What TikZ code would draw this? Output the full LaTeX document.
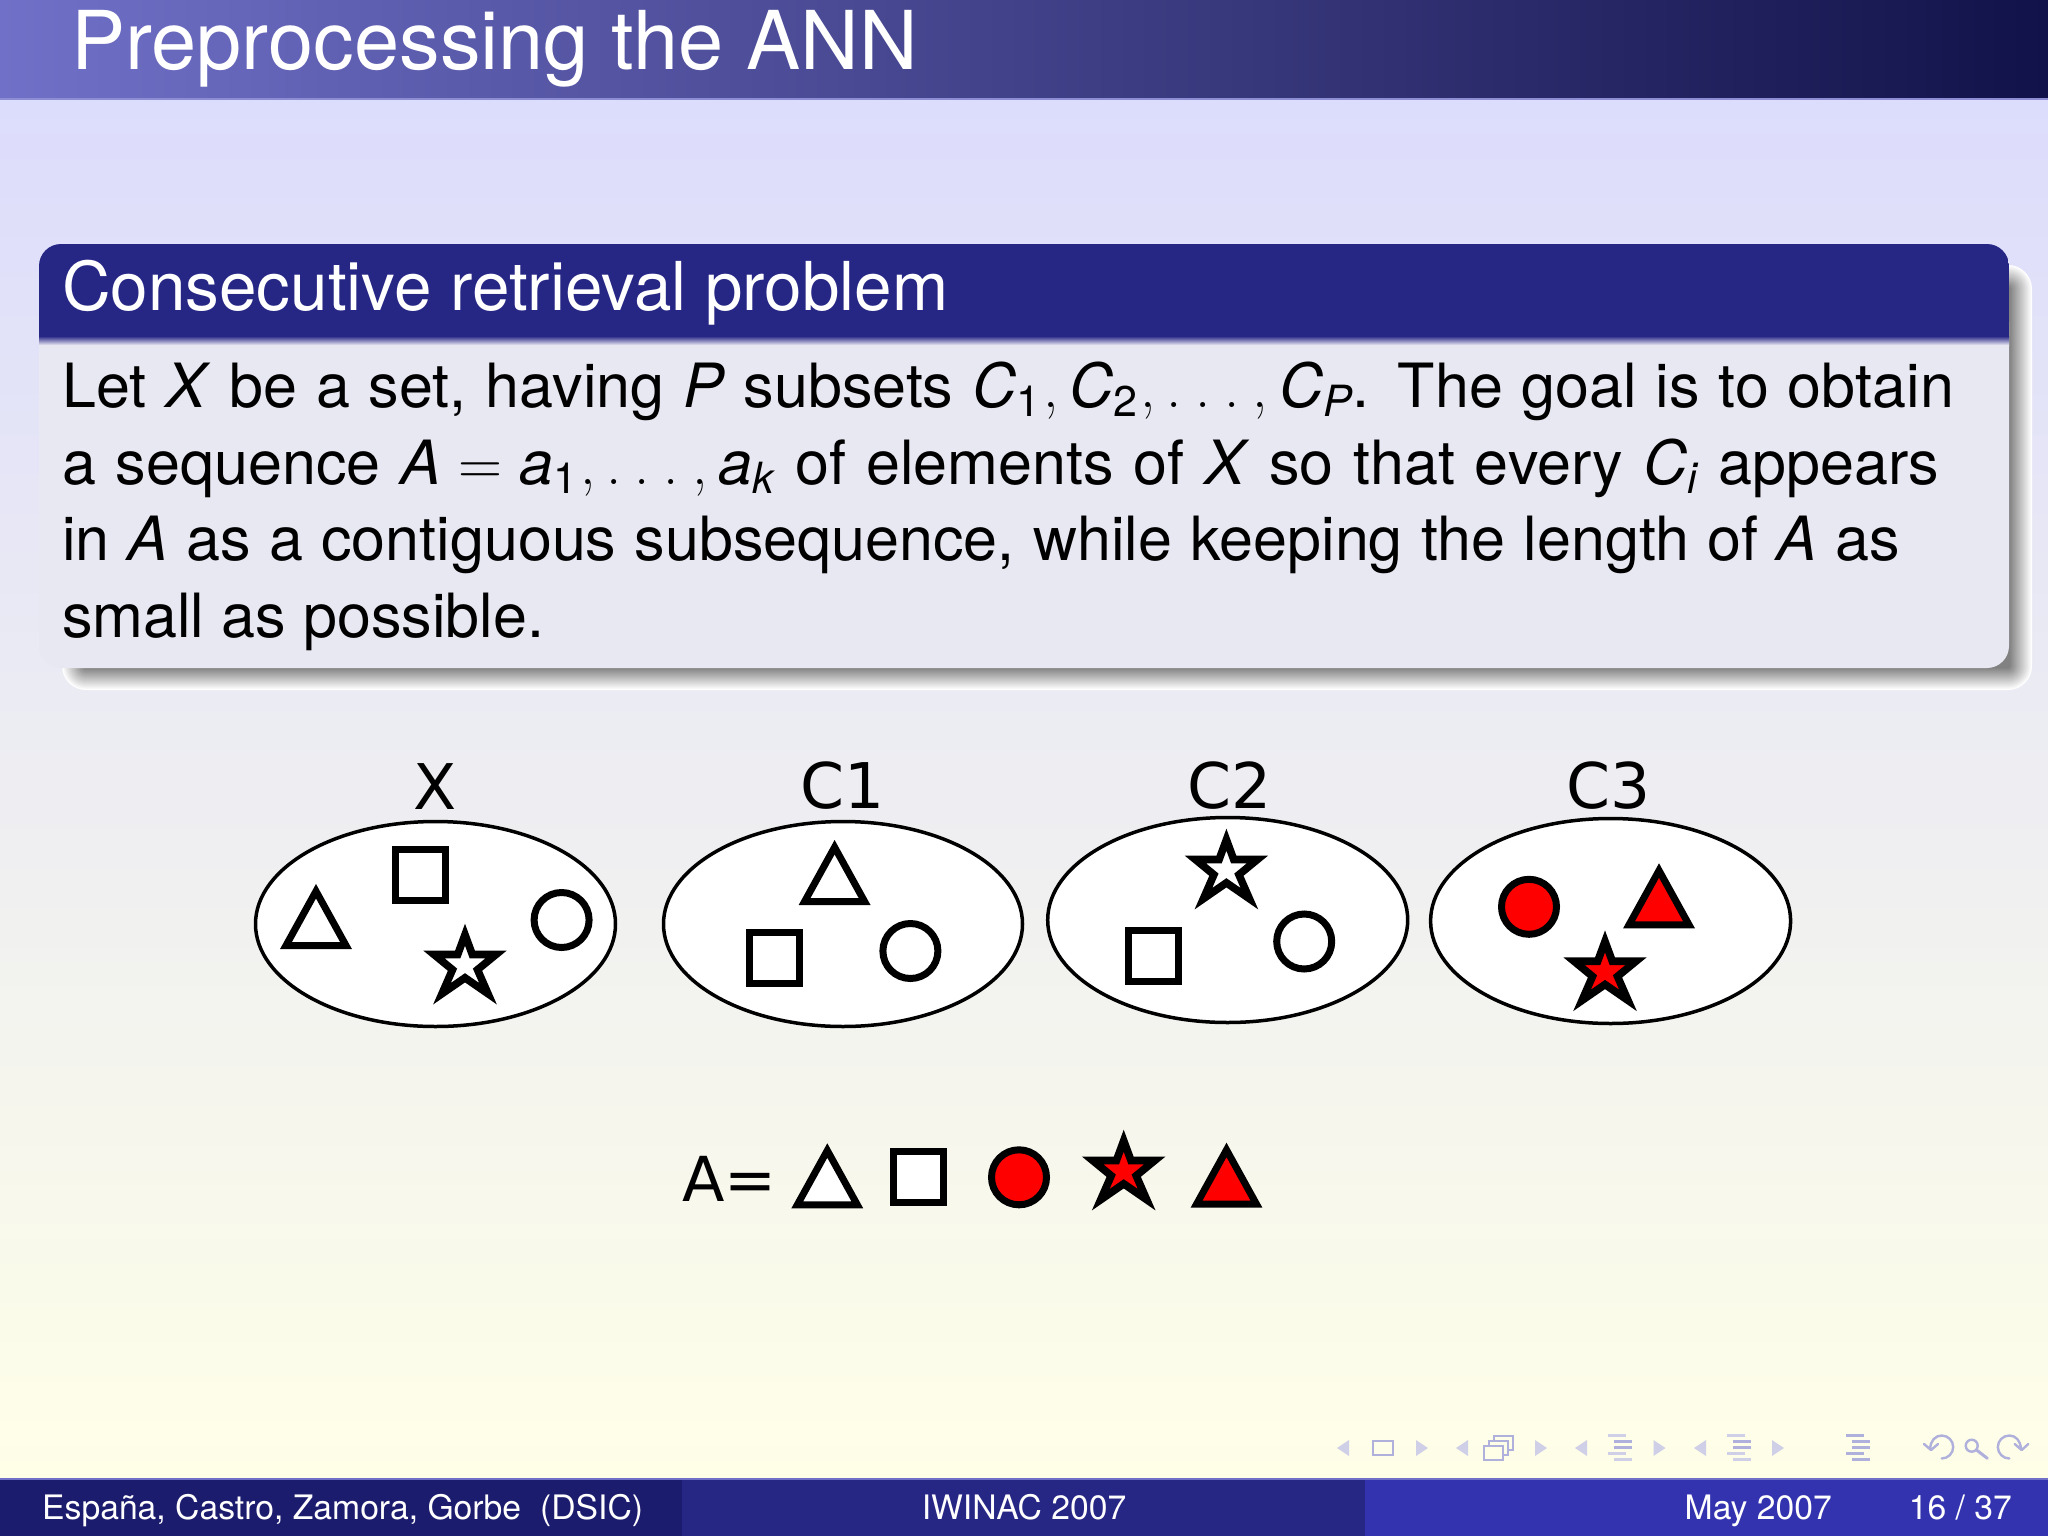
\documentclass[tikz,border=0pt]{standalone}
\usepackage{fontspec}
\setmainfont{TeX Gyre Heros}
\newfontfamily\lmr{Latin Modern Roman}
\newfontfamily\djv{DejaVu Sans}
\usetikzlibrary{calc}
\definecolor{barleft}{HTML}{7070C8}
\definecolor{barright}{HTML}{12124A}
\definecolor{bgtop}{HTML}{DCDCFC}
\definecolor{bgbot}{HTML}{FFFFE8}
\definecolor{blockhead}{HTML}{262685}
\definecolor{blockbody}{HTML}{E8E8F2}
\definecolor{footdark}{HTML}{1C1C6E}
\definecolor{footmid}{HTML}{262685}
\definecolor{footlight}{HTML}{3333B0}
\definecolor{navtri}{HTML}{CFCFE8}
\definecolor{navline}{HTML}{B0B0DC}
\newcommand{\bodysize}{\fontsize{61}{76}\selectfont}
\newcommand{\subs}[1]{\raisebox{-9pt}{\fontsize{43}{43}\selectfont #1}}
\newcommand{\tm}[1]{\textit{#1}}
\newcommand{\cma}{\hspace{3pt}{\lmr,}\hspace{11pt}}
\newcommand{\dts}{{\lmr.}\hspace{13.5pt}{\lmr.}\hspace{13.5pt}{\lmr.}\hspace{13.5pt}{\lmr,}\hspace{11pt}}
\newcommand{\tri}[3]{\draw[shapeline,fill=#3] (#1-30,#2-3.5) -- (#1+30,#2-3.5) -- (#1,#2-57.8) -- cycle;}
\newcommand{\squ}[3]{\draw[shapeline,fill=#3] (#1-25,#2-25.5) rectangle (#1+25,#2+25.5);}
\newcommand{\cir}[3]{\draw[shapeline,fill=#3] (#1,#2) circle[radius=27.5];}
\newcommand{\sta}[3]{\draw[shapeline,line width=7.6pt,fill=#3]
  (#1+0,#2-31) -- (#1+7.3,#2-11.2) -- (#1+31,#2-11.2) -- (#1+12.5,#2+4) -- (#1+23,#2+28)
  -- (#1+0,#2+12.1) -- (#1-23,#2+28) -- (#1-12.5,#2+4) -- (#1-31,#2-11.2) -- (#1-7.3,#2-11.2) -- cycle;}
\newcommand{\navbars}[3]{%
  \foreach \dy/\col/\dx in {1435.7/#3/0,1441.7/#2/6,1447.3/#2/6,1453.3/#3/0,1459/#3/6}{\fill[color=\col] (#1+\dx,\dy-1.5) rectangle (#1+\dx+18,\dy+1.5);}}
\tikzset{
  x=1pt,y=-1pt,
  shapeline/.style={draw=black,line width=7pt,miter limit=10},
  setell/.style={draw=black,line width=3.5pt,fill=white},
  setlab/.style={font=\djv\fontsize{63}{63}\selectfont,anchor=base,inner sep=0},
  bodyline/.style={font=\bodysize,anchor=base west,inner sep=0,text=black},
  foot/.style={font=\fontsize{33.7}{35}\selectfont,anchor=base,inner sep=0,text=white},
  navt/.style={fill=navtri,draw=none},
  navc/.style={draw=navline,line width=2.4pt,line cap=round,line join=round},
}
\begin{document}
\begin{tikzpicture}
\useasboundingbox (0,0) rectangle (2048,1536);
% background
\shade[top color=bgtop,bottom color=bgbot,shading angle=0] (0,99) rectangle (2048,1480);
\shade[left color=barleft,right color=barright] (0,0) rectangle (2048,98);
\fill[color=barleft!80!white] (0,98) rectangle (2048,100);
\node[anchor=base west,inner sep=0,text=white,font=\fontsize{81.2}{81}\selectfont] (title) at (71,70) {Preprocessing the ANN};
% shadow
\foreach \i in {0,1,...,22}{
  \pgfmathsetmacro{\pc}{100-\i*4.5}
  \pgfmathsetmacro{\rad}{max(24-\i,1)}
  \fill[rounded corners=\rad pt,color=white!\pc!gray] (62+\i,265+\i) rectangle (2032-\i,690-\i);
}
% block
\fill[color=blockbody,rounded corners=22pt] (39,300) rectangle (2009,668);
\fill[color=blockbody] (39,300) rectangle (2009,400);
\begin{scope}
\clip[rounded corners=22pt] (39,244) rectangle (2009,500);
\fill[color=blockhead] (39,244) rectangle (2009,336);
\shade[top color=blockhead,bottom color=blockbody] (39,336) rectangle (2009,345);
\end{scope}
\node[anchor=base west,inner sep=0,text=white,font=\fontsize{67.4}{67}\selectfont] (head) at (62,310) {Consecutive retrieval problem};
\node[bodyline] (l1) at (62,407) {\hbox to 1892pt{Let \tm{X} be a set, having \tm{P} subsets \tm{C}\subs{1}\cma\tm{C}\subs{2}\cma\dts\tm{C}\subs{\tm{P}}. The goal is to obtain}};
\node[bodyline] (l2) at (62,484) {\hbox to 1877pt{a sequence \tm{A}\hspace{17pt}{\lmr=}\hspace{17pt}\tm{a}\subs{1}\cma\dts\tm{a}\subs{\tm{k}} of elements of \tm{X} so that every \tm{C}\subs{\tm{i}} appears}};
\node[bodyline] (l3) at (62,560) {\hbox to 1838pt{in \tm{A} as a contiguous subsequence, while keeping the length of \tm{A} as}};
\node[bodyline] (l4) at (62,637) {\hbox to 482pt{small as possible.}};
% sets
\draw[setell] (435.5,924) ellipse[x radius=180,y radius=102.5];
\draw[setell] (843,924) ellipse[x radius=179.5,y radius=102.5];
\draw[setell] (1227.7,920) ellipse[x radius=180,y radius=102.5];
\draw[setell] (1610.6,921) ellipse[x radius=180,y radius=102.5];
\node[setlab] (lx) at (435,809) {X};
\node[setlab] (lc1) at (842.6,808) {C1};
\node[setlab] (lc2) at (1229.6,808) {C2};
\node[setlab] (lc3) at (1608.4,808) {C3};
% X
\tri{316}{949}{white}\squ{420.6}{874.5}{white}\cir{561.6}{920}{white}\sta{465}{965.7}{white}
% C1
\tri{834.6}{905}{white}\squ{774.6}{958}{white}\cir{910.4}{951}{white}
% C2
\sta{1226.4}{870.7}{white}\squ{1153.7}{955.5}{white}\cir{1304.2}{941.5}{white}
% C3
\cir{1529}{906.8}{red}\tri{1659}{928.3}{red}\sta{1605}{972.4}{red}
% A
\node[setlab,anchor=base west,font=\djv\fontsize{62}{62}\selectfont] (aeq) at (682,1201) {A=};
\tri{827.3}{1208.3}{white}\squ{918}{1177.3}{white}\cir{1019}{1177.3}{red}\sta{1123.7}{1171.7}{red}\tri{1226.5}{1207.7}{red}
% footer
\fill[color=footdark] (0,1478) rectangle (682,1536);
\fill[color=footmid] (682,1478) rectangle (1365,1536);
\fill[color=footlight] (1365,1478) rectangle (2048,1536);
\fill[color=barleft] (0,1478) rectangle (2048,1479.5);
\node[foot,anchor=base west] (f1) at (42,1519) {España, Castro, Zamora, Gorbe\hspace{19pt}(DSIC)};
\node[foot] (f2) at (1024,1519) {IWINAC 2007};
\node[foot,anchor=base east] (f3) at (1832,1519) {May 2007};
\node[foot,anchor=base east] (f4) at (2012,1519) {16 / 37};
% navigation symbols
\foreach \xa in {1337,1456,1575,1694}{\fill[navt] (\xa,1448) -- (\xa+12,1440) -- (\xa+12,1456) -- cycle;}
\foreach \xa in {1416,1535,1653.5,1772}{\fill[navt] (\xa,1440) -- (\xa+12,1448) -- (\xa,1456) -- cycle;}
\draw[color=navline,line width=2pt] (1372.5,1441) rectangle (1392.5,1455);
\foreach \d in {0,1,2}{\draw[color=navline,line width=1.6pt,fill=bgbot] (1494+\d*-5,1436+\d*5) rectangle (1513+\d*-5,1450+\d*5);}
\navbars{1608}{navline}{navtri}
\navbars{1727}{navline}{navtri}
\navbars{1846}{navline}{navline}
% back, search, forward
\draw[navc] (1924,1444) -- (1931,1450) -- (1938,1444);
\draw[navc] (1930.2,1449) .. controls (1930.2,1440.7) and (1935.4,1435.5) .. (1941.7,1435.5) .. controls (1948,1435.5) and (1953.2,1440.7) .. (1953.2,1447) .. controls (1953.2,1453.3) and (1948,1458.5) .. (1941.7,1458.5);
\draw[navc] (1971.7,1445.7) circle[radius=6];
\draw[navc,line width=3pt] (1976.5,1450) -- (1987.3,1458.3);
\draw[navc] (2028.3,1444) -- (2021.7,1450) -- (2014.7,1444);
\draw[navc] (2020.8,1449) .. controls (2020.8,1440.7) and (2015.6,1435.5) .. (2009.3,1435.5) .. controls (2003,1435.5) and (1997.8,1440.7) .. (1997.8,1447) .. controls (1997.8,1453.3) and (2003,1458.5) .. (2009.3,1458.5);
\end{tikzpicture}
\end{document}
